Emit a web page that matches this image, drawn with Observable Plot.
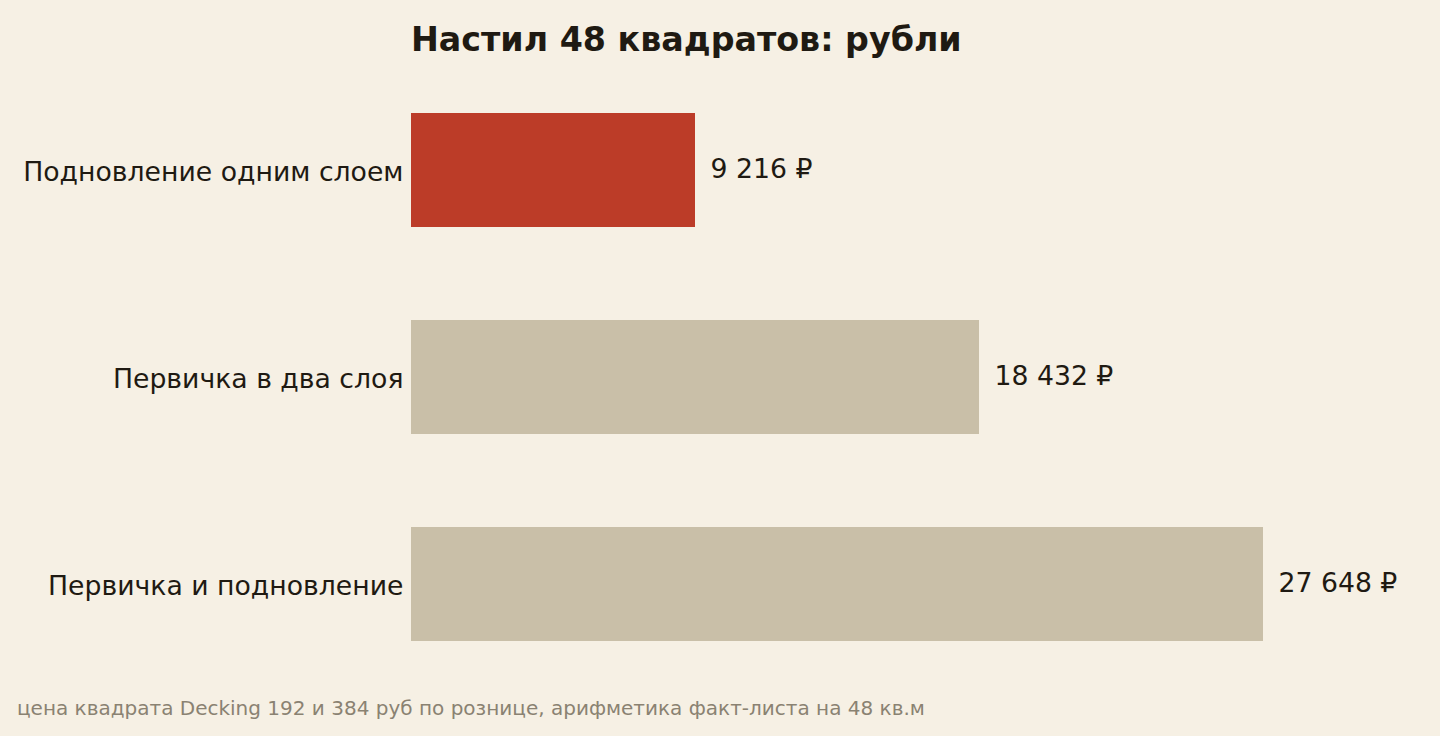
<!DOCTYPE html>
<html>
<head>
<meta charset="utf-8">
<script src="https://cdn.jsdelivr.net/npm/d3@7"></script>
<script src="https://cdn.jsdelivr.net/npm/@observablehq/plot@0.6"></script>
<style>
  html, body { margin: 0; padding: 0; background: #f6f0e4; }
  body { width: 1440px; height: 736px; overflow: hidden; font-family: "DejaVu Sans", sans-serif; }
  #title { height: 66px; box-sizing: border-box; padding-left: 411px; padding-top: 23px; font-size: 33.3px; font-weight: bold; line-height: 1; color: #1f1a12; }
  #caption { height: 40px; line-height: 40px; padding-left: 17px; font-size: 20px; color: #8a8272; }
  svg { display: block; }
</style>
</head>
<body>
<div id="title">Настил 48 квадратов: рубли</div>
<div id="chart"></div>
<div id="caption">цена квадрата Decking 192 и 384 руб по рознице, арифметика факт-листа на 48 кв.м</div>
<script>
const categories = ["Подновление одним слоем", "Первичка в два слоя", "Первичка и подновление"];
const values = [9216, 18432, 27648];
const highlight = [true, false, false];

const data = categories.map((c, i) => ({category: c, value: values[i], hi: highlight[i]}));
const fmt = v => String(v).replace(/\B(?=(\d{3})+(?!\d))/g, " ") + " ₽";

const chart = Plot.plot({
  width: 1440,
  height: 622,
  marginTop: 0,
  marginBottom: 0,
  marginLeft: 411,
  marginRight: 177,
  style: {background: "transparent", fontFamily: "DejaVu Sans, sans-serif", fontSize: "26.7px", color: "#1f1a12"},
  x: {domain: [0, 27648], axis: null},
  y: {domain: categories, paddingInner: 0.45, paddingOuter: 0.225, label: null},
  marks: [
    Plot.barX(data, {x: "value", y: "category", fill: d => d.hi ? "#bc3c28" : "#c9bfa8"}),
    Plot.text(data, {x: "value", y: "category", text: d => fmt(d.value), textAnchor: "start", dx: 15, dy: -1, fontSize: 26.7, fill: "#1f1a12"}),
    Plot.axisY({tickSize: 0, tickPadding: 8, fontSize: 26.7, dy: 2, fill: "#1f1a12", label: null})
  ]
});
document.getElementById("chart").appendChild(chart);
</script>
</body>
</html>
